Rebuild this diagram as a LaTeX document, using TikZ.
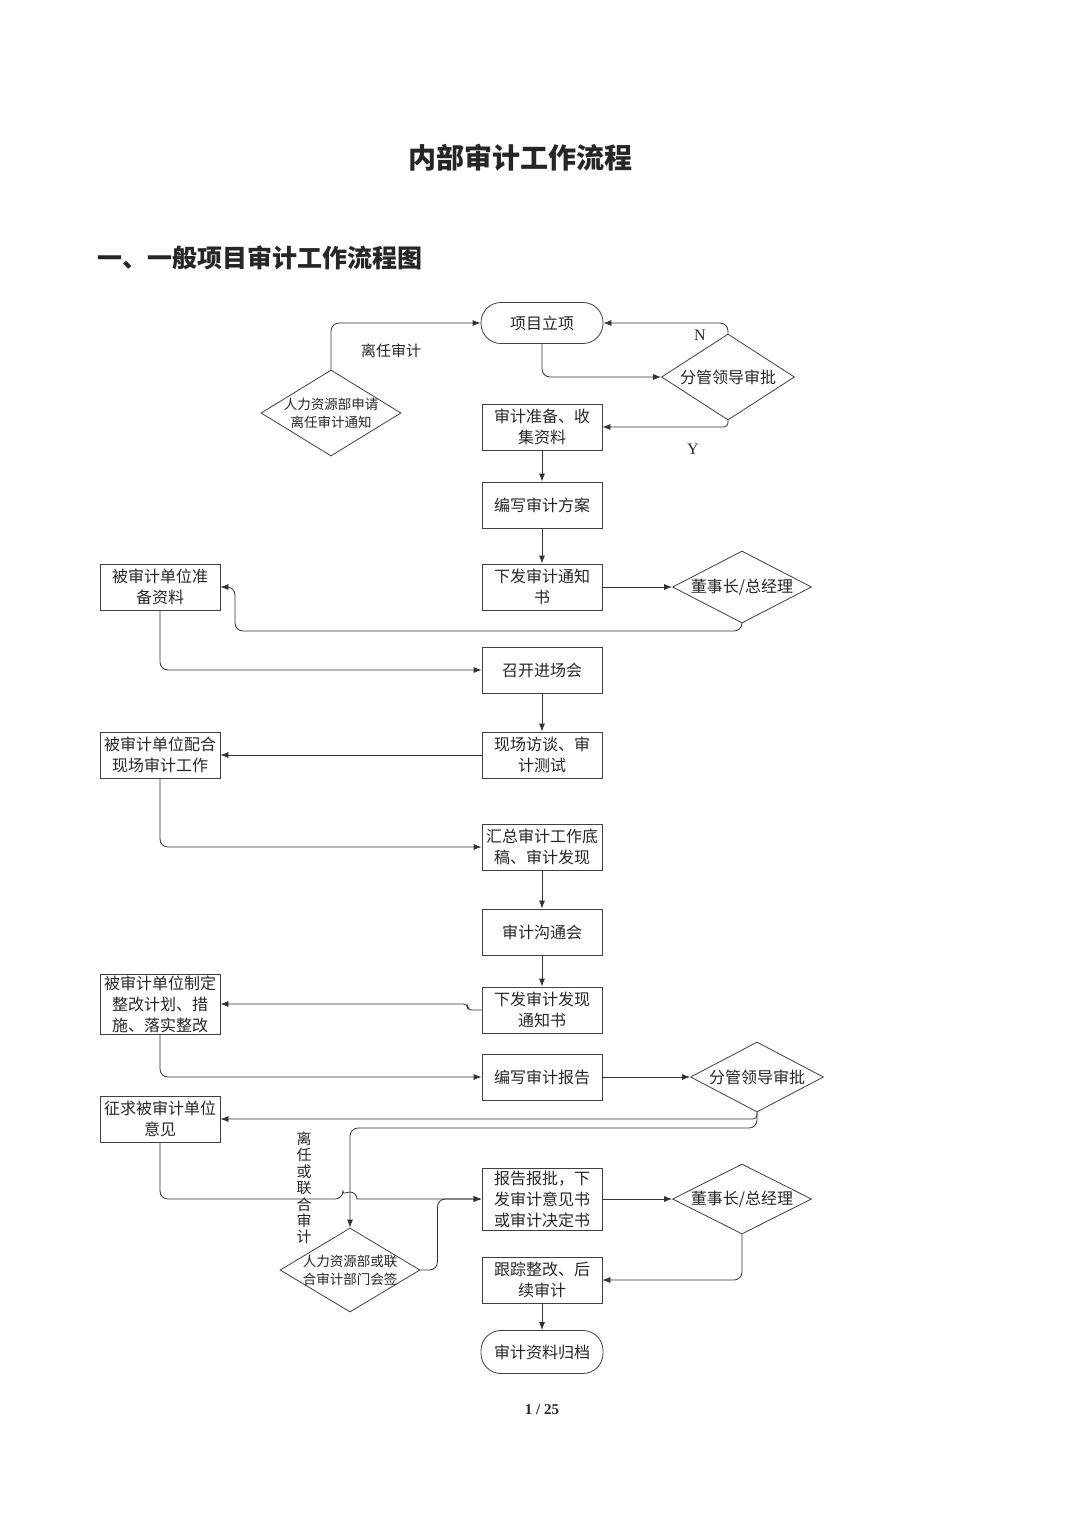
\documentclass[tikz,border=0pt]{standalone}
\usepackage{fontspec}
\setmainfont{Liberation Serif}
\newfontfamily\cjk{Noto Sans CJK SC}
\usetikzlibrary{shapes.geometric}
\usetikzlibrary{arrows.meta}
\usetikzlibrary{calc}

\begin{document}
\begin{tikzpicture}[x=1pt, y=-1pt,
    every node/.style={font=\cjk\fontsize{16}{21}\selectfont, text=black!85},
    box/.style={draw=black!75, line width=0.8pt, minimum width=120pt, minimum height=46pt, align=center, inner sep=1pt},
    terminal/.style={draw=black!75, line width=0.8pt, rounded corners=20pt, minimum width=122pt, minimum height=41pt},
    decision/.style 2 args={diamond, draw=black!75, line width=0.8pt, inner sep=0pt, minimum width=#1, minimum height=#2},
    flow/.style={draw=black!80, line width=0.8pt, rounded corners=8pt, -{Latex[length=8pt,width=6pt]}},
    small/.style={font=\cjk\fontsize{13.5}{18}\selectfont, align=center}]

    % Page and headings
    \fill[white] (0,0) rectangle (1080,1527);
    \useasboundingbox (0,0) rectangle (1080,1527);
    \node (title) at (520,158) [font=\cjk\bfseries\fontsize{28}{28}\selectfont] {内部审计工作流程};
    \node (head) at (97,258) [anchor=west, font=\cjk\bfseries\fontsize{25}{25}\selectfont, inner sep=0pt] {一、一般项目审计工作流程图};

    % Main column
    \node[terminal] (start) at (542,323) {项目立项};
    \node[box] (prep) at (542,427) {审计准备、收\\集资料};
    \node[box] (plan) at (542,505) {编写审计方案};
    \node[box] (notice) at (542,587) {下发审计通知\\书};
    \node[box] (meeting) at (542,670) {召开进场会};
    \node[box] (interview) at (542,755) {现场访谈、审\\计测试};
    \node[box] (summary) at (542,847) {汇总审计工作底\\稿、审计发现};
    \node[box] (comm) at (542,932) {审计沟通会};
    \node[box] (findings) at (542,1010) {下发审计发现\\通知书};
    \node[box] (report) at (542,1077) {编写审计报告};
    \node[box, minimum height=62pt] (issue) at (542,1199) {报告报批，下\\发审计意见书\\或审计决定书};
    \node[box] (follow) at (542,1280) {跟踪整改、后\\续审计};
    \node[terminal, minimum height=43pt] (end) at (542,1352) {审计资料归档};

    % Audited unit column
    \node[box] (prep2) at (160,587) {被审计单位准\\备资料};
    \node[box] (coop) at (160,755) {被审计单位配合\\现场审计工作};
    \node[box, minimum height=60pt] (rect) at (160,1004) {被审计单位制定\\整改计划、措\\施、落实整改};
    \node[box] (opinion) at (160,1119) {征求被审计单位\\意见};

    % Decisions
    \node[decision={133pt}{86pt}, label={center:分管领导审批}] (d1) at (728,377) {};
    \node[decision={140pt}{86pt}, label={[small]center:人力资源部申请\\离任审计通知}] (hr) at (331,413) {};
    \node[decision={139pt}{72pt}, label={center:董事长/总经理}] (d2) at (742,587) {};
    \node[decision={133pt}{70pt}, label={center:分管领导审批}] (d3) at (757,1077) {};
    \node[decision={140pt}{84pt}, label={[small]center:人力资源部或联\\合审计部门会签}] (hr2) at (350,1270) {};
    \node[decision={139pt}{70pt}, label={center:董事长/总经理}] (d4) at (742,1199) {};

    % Labels on connectors
    \node (lblN) at (700,335) [font=\rmfamily\fontsize{16}{16}\selectfont] {N};
    \node (lblY) at (693,449) [font=\rmfamily\fontsize{16}{16}\selectfont] {Y};
    \node (lblLeave) at (391,351) [font=\cjk\fontsize{15}{15}\selectfont] {离任审计};
    \node (lblJoint) at (304,1188) [align=center, font=\cjk\fontsize{15}{16.4}\selectfont] {离\\任\\或\\联\\合\\审\\计};

    % Helper points
    \coordinate (c1) at (235,631);
    \coordinate (c2) at (350,1128);

    % Connectors
    \draw[flow] (start.south) |- (d1.west);
    \draw[flow] (d1.north) |- (start.east);
    \draw[flow, rounded corners=4pt] (d1.south) |- (prep.east);
    \draw[flow] (hr.north) |- (start.west);
    \draw[flow] (prep) -- (plan);
    \draw[flow] (plan) -- (notice);
    \draw[flow] (notice.east) -- (d2.west);
    \draw[flow] (d2.south) |- (c1) |- (prep2.east);
    \draw[flow] (prep2.south) |- (meeting.west);
    \draw[flow] (meeting) -- (interview);
    \draw[flow] (interview.west) -- (coop.east);
    \draw[flow] (coop.south) |- (summary.west);
    \draw[flow] (summary) -- (comm);
    \draw[flow] (comm) -- (findings);
    \draw[flow, rounded corners=4pt] (findings.west) -- ++(-14,0) |- (rect.east);
    \draw[flow] (rect.south) |- (report.west);
    \draw[flow] (report.east) -- (d3.west);
    \draw[flow, rounded corners=4pt] (d3.south) |- (opinion.east);
    \draw[flow] (d3.south) |- (c2) -- (hr2.north);
    \draw[flow] (opinion.south) |- (343,1199) [sharp corners] arc[start angle=180, end angle=360, radius=7] -- (issue.west);
    \draw[flow] (hr2.east) -- ++(17,0) |- (issue.west);
    \draw[flow] (issue.east) -- (d4.west);
    \draw[flow] (d4.south) |- (follow.east);
    \draw[flow] (follow) -- (end);

    % Page number
    \node (page) at (542,1410) [font=\rmfamily\bfseries\fontsize{15}{15}\selectfont] {1 / 25};
\end{tikzpicture}
\end{document}
